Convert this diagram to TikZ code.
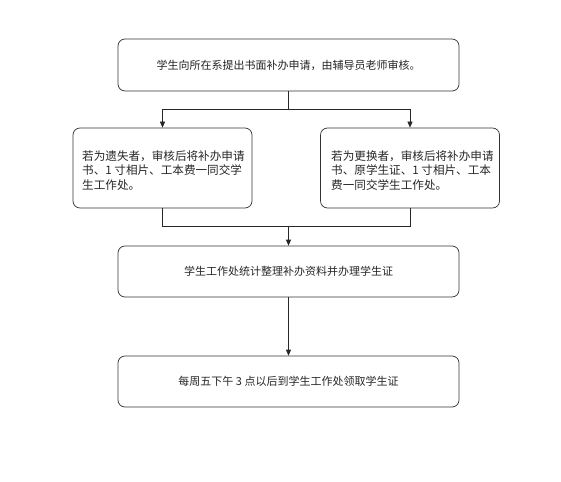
\documentclass[tikz,border=0pt]{standalone}
\usepackage{fontspec}
\newfontfamily\cjk{Noto Sans CJK SC}
\usetikzlibrary{arrows.meta}
\begin{document}
\begin{tikzpicture}[x=1pt,y=-1pt,
  box/.style={draw=black!80, line width=0.7pt, rounded corners=7pt, inner sep=0pt,
    font=\cjk\fontsize{11}{14.5}\selectfont, text=black!85},
  widebox/.style={box, minimum width=341pt, minimum height=52pt},
  sidebox/.style={box, minimum width=179pt, minimum height=80pt},
  conn/.style={draw=black!85, line width=0.7pt},
  arr/.style={conn, -{Triangle[length=6pt,width=5pt]}}]
\useasboundingbox (0,0) rectangle (561,481);
\fill[white] (0,0) rectangle (561,481);
\node[widebox] (top) at (288.5,65) {学生向所在系提出书面补办申请，由辅导员老师审核。};
\node[sidebox] (left) at (162.5,168) {};
\node[sidebox] (right) at (410,168) {};
\node[anchor=north west, inner sep=0pt, font=\cjk\fontsize{11.6}{14.5}\selectfont, text=black!85, align=left] (lt) at (82,150)
  {若为遗失者，审核后将补办申请\\书、1 寸相片、工本费一同交学\\生工作处。};
\node[anchor=north west, inner sep=0pt, font=\cjk\fontsize{11.6}{14.5}\selectfont, text=black!85, align=left] (rt) at (331,150)
  {若为更换者，审核后将补办申请\\书、原学生证、1 寸相片、工本\\费一同交学生工作处。};
\node[widebox, minimum height=51pt] (mid) at (288.5,271.5) {学生工作处统计整理补办资料并办理学生证};
\node[widebox, minimum height=51pt] (bot) at (288.5,381.5) {每周五下午 3 点以后到学生工作处领取学生证};
\coordinate (j1) at (288.5,109);
\coordinate (j2) at (288.5,226);
\draw[conn] (top) -- (j1);
\draw[arr] (j1) -| (left);
\draw[arr] (j1) -| (right);
\draw[conn] (left) |- (j2);
\draw[conn] (right) |- (j2);
\draw[arr] (j2) -- (mid);
\draw[arr] (mid) -- (bot);
\end{tikzpicture}
\end{document}
